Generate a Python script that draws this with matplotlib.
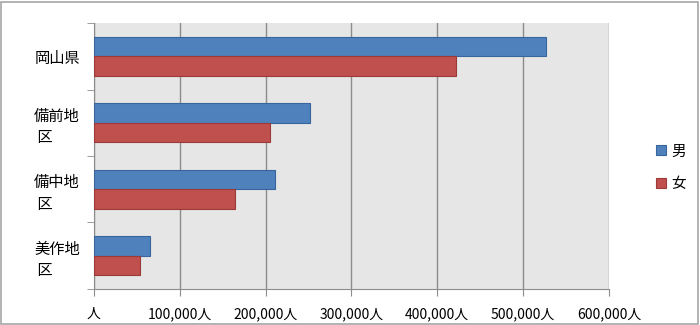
import numpy as np
import matplotlib.pyplot as plt
from matplotlib.patches import Rectangle
from matplotlib.ticker import FuncFormatter

plt.rcParams['font.family'] = ['Noto Sans CJK JP', 'DejaVu Sans']

regions = ["岡山県", "備前地\n 区", "備中地\n 区", "美作地\n 区"]
male = [527000, 252000, 211000, 65000]
female = [422000, 205000, 164000, 54000]
series_names = ["男", "女"]

fig = plt.figure(figsize=(7, 3.25), dpi=100)
ax = fig.add_axes([0.134, 0.111, 0.736, 0.818])
ax.set_facecolor("#e6e6e6")

y = np.arange(len(regions))
h = 0.29
ax.barh(y - h / 2, male, height=h, color="#4f81bd", edgecolor="#38659c",
        linewidth=0.8, label=series_names[0], zorder=3)
ax.barh(y + h / 2, female, height=h, color="#c0504d", edgecolor="#9c3a37",
        linewidth=0.8, label=series_names[1], zorder=3)

ax.set_ylim(len(regions) - 0.5, -0.5)
ax.set_xlim(0, 600000)
ax.set_xticks(np.arange(0, 600001, 100000))
ax.xaxis.set_major_formatter(FuncFormatter(
    lambda v, p: "人" if v == 0 else f"{int(v):,}人"))
ax.grid(axis="x", color="#8c8c8c", linewidth=1, zorder=1)

# category labels centred, ticks at category boundaries
ax.set_yticks(y)
ax.set_yticklabels(regions, fontsize=11, multialignment="left", linespacing=1.35)
ax.tick_params(axis="y", length=0, pad=10)
ax.set_yticks(np.arange(-0.5, len(regions)), minor=True)
ax.tick_params(axis="y", which="minor", length=5, color="#8c8c8c")
ax.tick_params(axis="x", length=5, color="#8c8c8c", labelsize=10, pad=8)

for s in ["top", "right"]:
    ax.spines[s].set_visible(False)
for s in ["left", "bottom"]:
    ax.spines[s].set_color("#8c8c8c")

ax.legend(loc="center left", bbox_to_anchor=(1.065, 0.455), frameon=False,
          fontsize=10.5, handlelength=0.7, handleheight=0.7, labelspacing=1.3,
          handletextpad=0.4)

fig.patches.append(Rectangle((0.002, 0.003), 0.995, 0.992, transform=fig.transFigure,
                             fill=False, edgecolor="#a6a6a6", linewidth=1.2))

fig.savefig("out.png", dpi=100)
